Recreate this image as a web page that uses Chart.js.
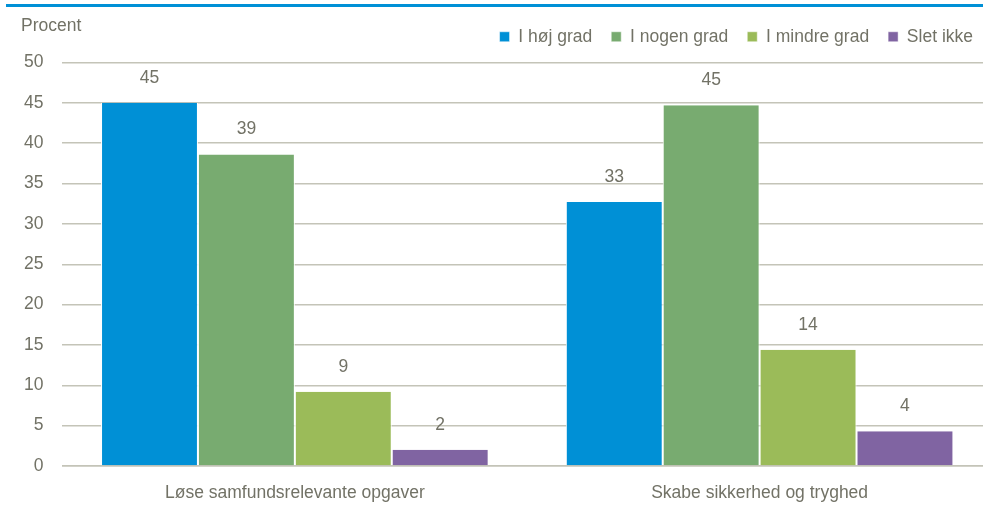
<!DOCTYPE html>
<html>
<head>
<meta charset="utf-8">
<script src="https://cdn.jsdelivr.net/npm/chart.js@4/dist/chart.umd.min.js"></script>
<style>
  html, body { margin: 0; padding: 0; background: #fff; overflow: hidden; }
  #wrap { position: relative; width: 992px; height: 508px; }
  #topline { position: absolute; left: 6px; top: 4px; width: 990px; height: 3px; background: #0090d6; }
  #unit { position: absolute; left: 21px; top: 15px; font: 17.5px 'Liberation Sans', Arial, sans-serif; color: #727266; }
</style>
</head>
<body>
<div id="wrap">
  <canvas id="chart"></canvas>
  <div id="topline"></div>
  <div id="unit">Procent</div>
</div>
<script>
// --- data ---
const categories = ['Løse samfundsrelevante opgaver', 'Skabe sikkerhed og tryghed'];
const seriesNames = ['I høj grad', 'I nogen grad', 'I mindre grad', 'Slet ikke'];
const hoejGrad = [45.0, 32.7];
const nogenGrad = [38.6, 44.7];
const mindreGrad = [9.2, 14.4];
const sletIkke = [2.0, 4.3];
const yTicks = [0, 5, 10, 15, 20, 25, 30, 35, 40, 45, 50];

const colors = ['#0090d6', '#78ab70', '#9bbb59', '#8064a2'];
const textColor = '#727266';
const gridColor = '#c4c4b8';
const font = "'Liberation Sans', Arial, sans-serif";

Chart.defaults.font.family = font;
Chart.defaults.font.size = 17.5;
Chart.defaults.color = textColor;

// value labels above the bars
const valueLabels = {
  id: 'valueLabels',
  afterDatasetsDraw(chart) {
    const ctx = chart.ctx;
    ctx.save();
    ctx.font = '17.5px ' + font;
    ctx.fillStyle = textColor;
    ctx.textAlign = 'center';
    ctx.textBaseline = 'middle';
    chart.data.datasets.forEach((ds, i) => {
      chart.getDatasetMeta(i).data.forEach((bar, j) => {
        ctx.fillText(Math.round(ds.data[j]), bar.x, bar.y - 25);
      });
    });
    ctx.restore();
  }
};

// extra room under the legend
const legendGap = {
  id: 'legendGap',
  beforeLayout(chart) {
    const lg = chart.legend;
    if (lg && !lg._gapPatched) {
      const fit = lg.fit;
      lg.fit = function () {
        fit.call(this);
        this.height += 7;
      };
      lg._gapPatched = true;
    }
  }
};

const allSeries = [hoejGrad, nogenGrad, mindreGrad, sletIkke];

new Chart(document.getElementById('chart'), {
  type: 'bar',
  data: {
    labels: categories,
    datasets: allSeries.map((d, i) => ({
      label: seriesNames[i],
      data: d,
      backgroundColor: colors[i],
      borderColor: '#ffffff',
      borderWidth: { left: 1, right: 1, top: 0, bottom: 0 },
      borderSkipped: false,
      categoryPercentage: 0.834,
      barPercentage: 1
    }))
  },
  options: {
    responsive: true,
    maintainAspectRatio: false,
    animation: false,
    layout: { padding: { left: 5, right: 0, top: 9, bottom: 0 } },
    plugins: {
      legend: {
        position: 'top',
        align: 'end',
        labels: {
          boxWidth: 10,
          boxHeight: 10,
          padding: 19,
          color: textColor,
          font: { size: 17.5 }
        }
      },
      tooltip: { enabled: false }
    },
    scales: {
      x: {
        grid: { display: false, drawTicks: false },
        border: { color: gridColor, width: 1.5 },
        ticks: { padding: 17, color: textColor },
        afterFit(scale) { scale.height = 42; }
      },
      y: {
        min: 0,
        max: 50,
        afterBuildTicks(axis) { axis.ticks = yTicks.map(v => ({ value: v })); },
        grid: { color: gridColor, drawTicks: false, lineWidth: 1.5 },
        border: { display: false },
        ticks: { padding: 19, color: textColor }
      }
    }
  },
  plugins: [valueLabels, legendGap]
});
</script>
</body>
</html>
